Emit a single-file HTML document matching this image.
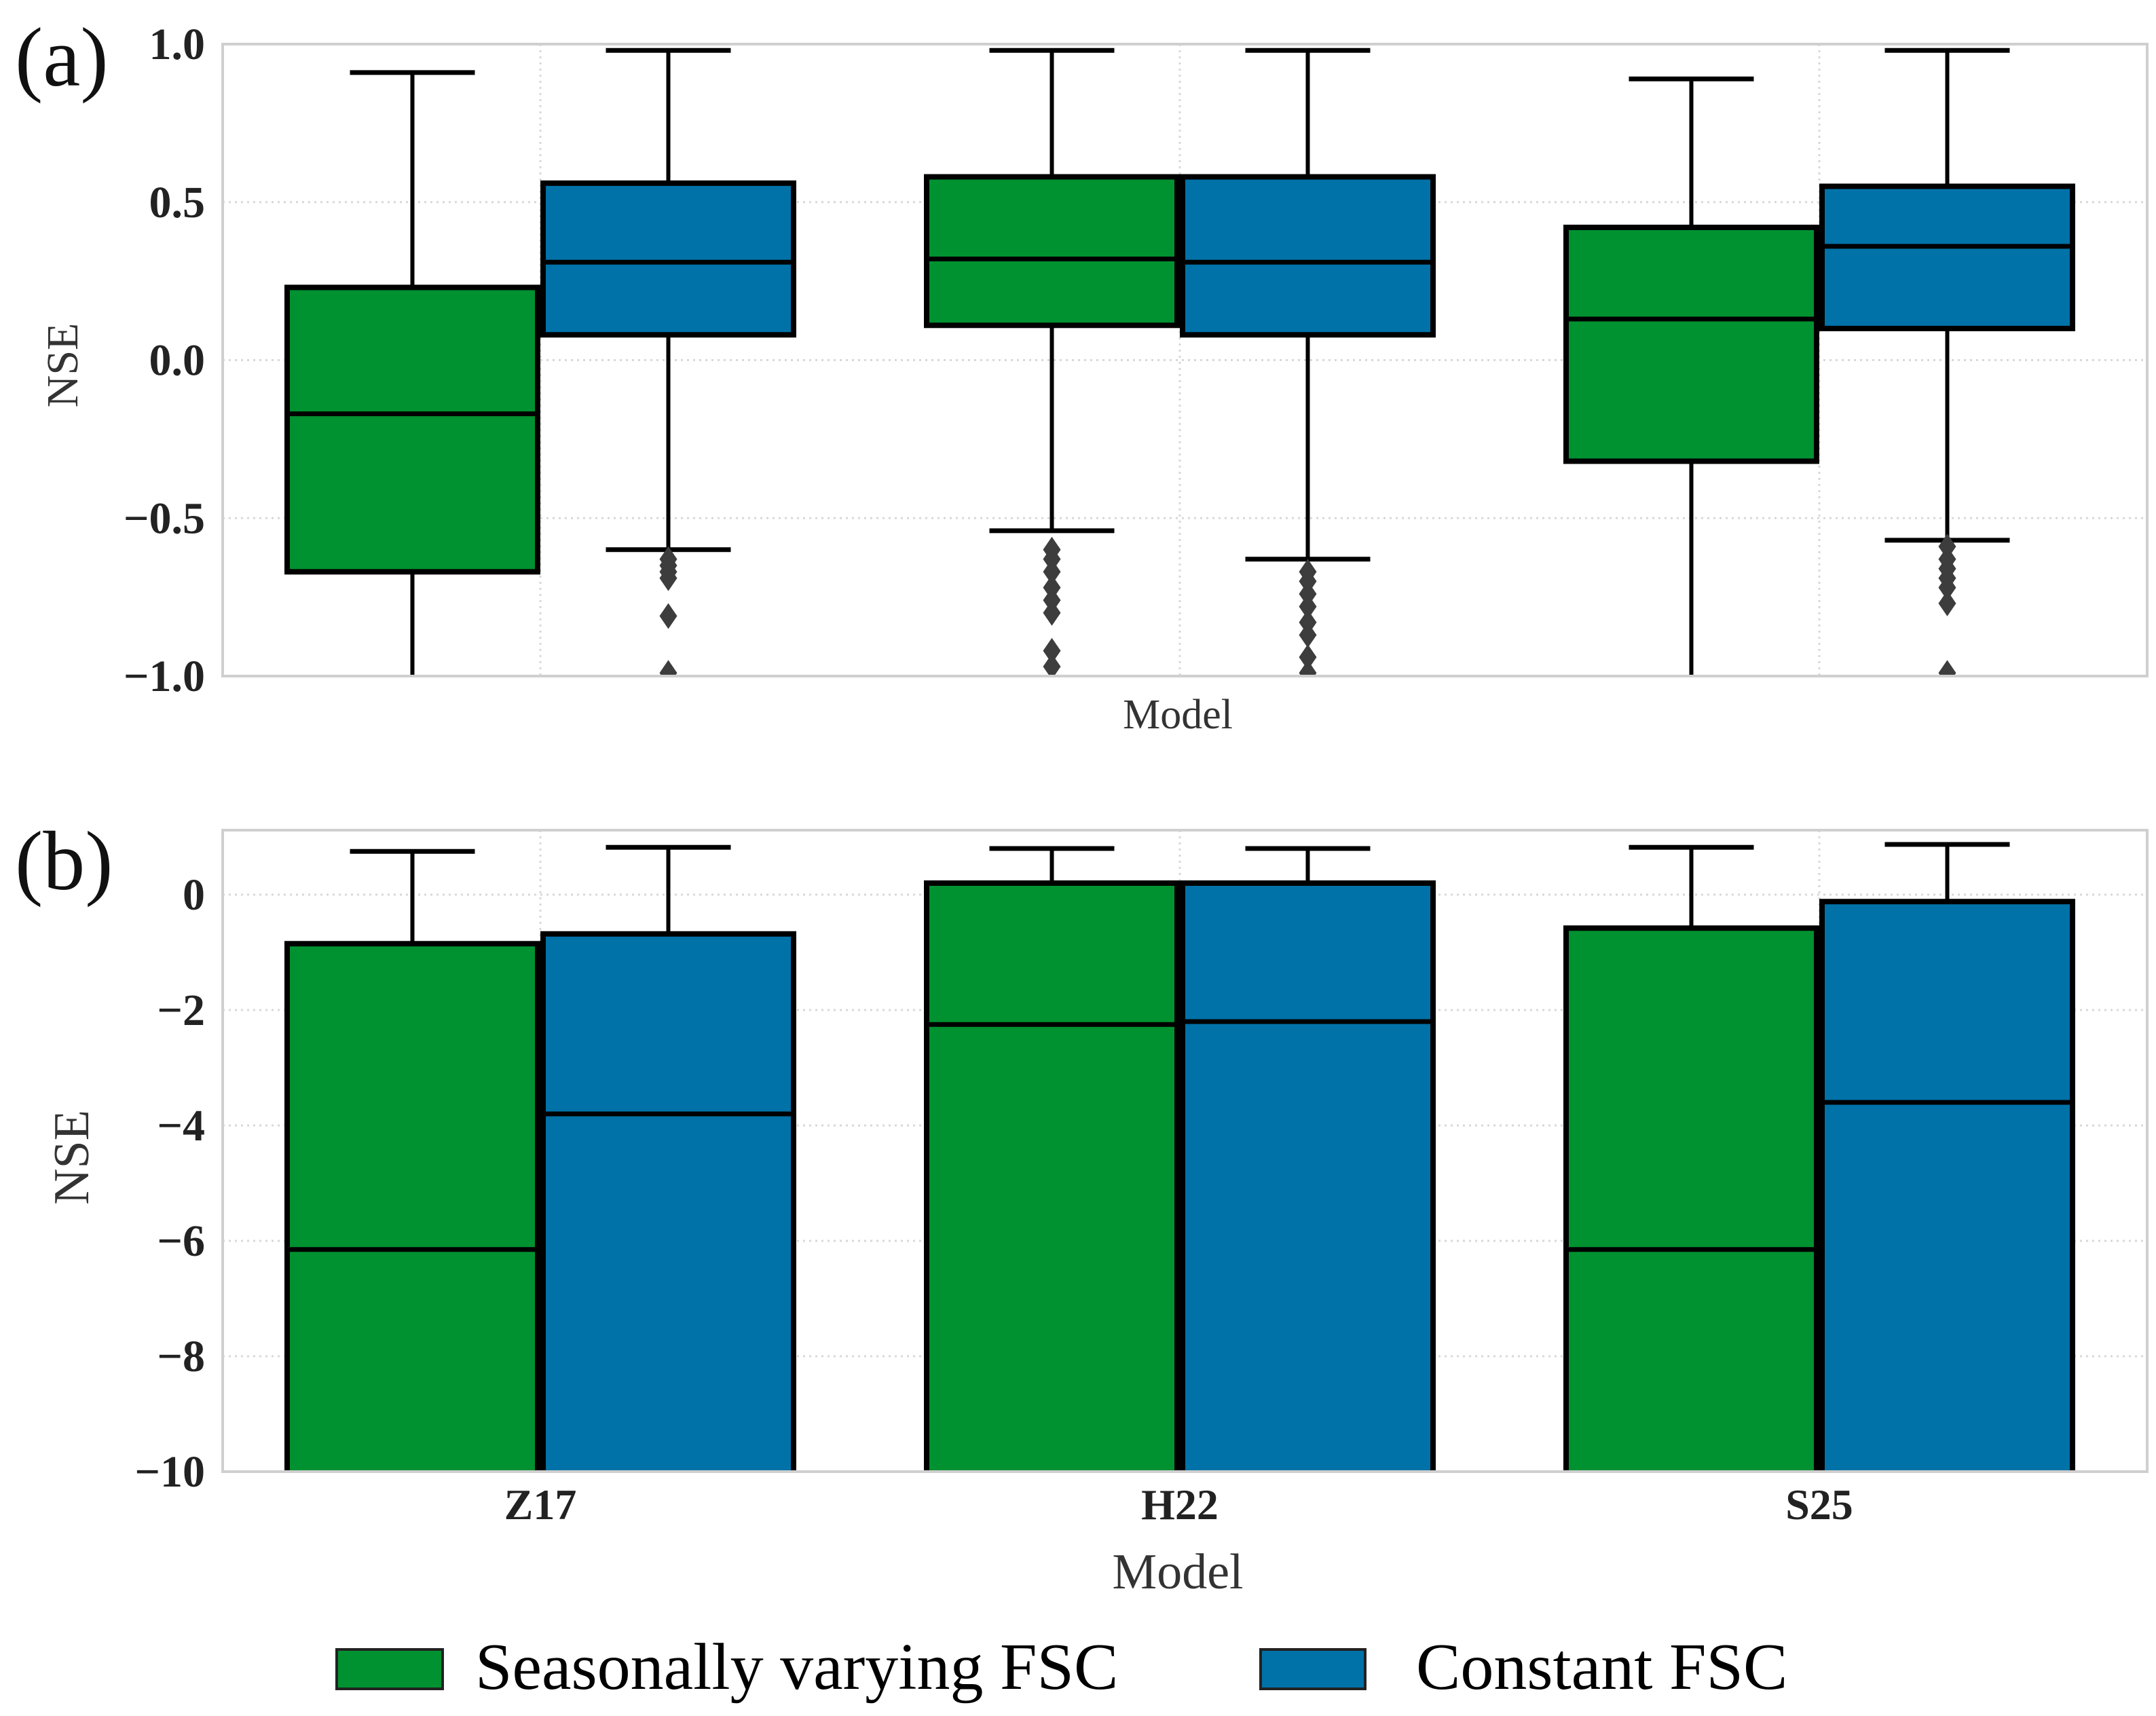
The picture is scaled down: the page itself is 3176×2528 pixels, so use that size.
<!DOCTYPE html>
<html><head><meta charset="utf-8">
<style>html,body{margin:0;padding:0;background:#fff}svg{display:block}</style>
</head><body>
<svg id="chart" width="3176" height="2528" viewBox="0 0 3176 2528" xmlns="http://www.w3.org/2000/svg" font-family="'Liberation Serif', serif">
<defs>
<clipPath id="clipA"><rect x="328" y="65" width="2835" height="931"/></clipPath>
<clipPath id="clipB"><rect x="328" y="1223" width="2835" height="945"/></clipPath>
</defs>
<g id="panelA"></g>
<g id="panelB"></g>
<g>
<rect x="496" y="2430" width="156" height="58" fill="#009230" stroke="#222" stroke-width="4"/>
<text x="700" y="2488" font-size="98">Seasonally varying FSC</text>
<rect x="1857" y="2430" width="154" height="58" fill="#0072a8" stroke="#222" stroke-width="4"/>
<text x="2086" y="2488" font-size="98">Constant FSC</text>
</g>
</svg>
<script>
const categories = ["Z17","H22","S25"];
const series = ["Seasonally varying FSC","Constant FSC"];
const colors = ["#009230","#0072a8"];
// Panel (a): [whiskerLow, q1, median, q3, whiskerHigh] per category per series
const aSeasonal = [[-1.2,-0.67,-0.17,0.23,0.91],[-0.54,0.11,0.32,0.58,0.98],[-1.2,-0.32,0.13,0.42,0.89]];
const aConstant = [[-0.60,0.08,0.31,0.56,0.98],[-0.63,0.08,0.31,0.58,0.98],[-0.57,0.10,0.36,0.55,0.98]];
const aOutSeasonal = [[],[-0.60,-0.63,-0.67,-0.72,-0.76,-0.80,-0.92,-0.97],[]];
const aOutConstant = [[-0.63,-0.65,-0.67,-0.69,-0.81,-0.99],[-0.67,-0.70,-0.74,-0.78,-0.83,-0.87,-0.94,-0.99],[-0.59,-0.63,-0.66,-0.69,-0.72,-0.77,-0.99]];
// Panel (b)
const bSeasonal = [[-14,-12,-6.15,-0.85,0.75],[-14,-12,-2.25,0.2,0.8],[-14,-12,-6.15,-0.58,0.82]];
const bConstant = [[-14,-12,-3.8,-0.68,0.82],[-14,-12,-2.2,0.2,0.8],[-14,-12,-3.6,-0.12,0.87]];
const aTicks = [1.0,0.5,0.0,-0.5,-1.0];
const aTickLabels = ["1.0","0.5","0.0","\u22120.5","\u22121.0"];
const bTicks = [0,-2,-4,-6,-8,-10];
const bTickLabels = ["0","\u22122","\u22124","\u22126","\u22128","\u221210"];

const NS="http://www.w3.org/2000/svg";
const L=328,R=3163;
function xc(i){return 796+942*i;}
const HALF=377;
function yA(v){return 530.5-v*465.5;}
function yB(v){return 1318-v*85;}
function mk(parent,tag,attrs){const e=document.createElementNS(NS,tag);for(const k in attrs)e.setAttribute(k,attrs[k]);parent.appendChild(e);return e;}

function drawPanel(g,top,bottom,ys,ticks,tlabels,data,outs,clip,letter,letterY,ylabY,ylabX,modelY,modelSize,showCats,ylabSize){
  const fr=mk(g,'rect',{x:L,y:top,width:R-L,height:bottom-top,fill:'#fff',stroke:'none'});
  
  
  ticks.forEach((t,k)=>{
    const y=ys(t);
    const gl=mk(g,'line',{x1:L,x2:R,y1:y,y2:y,stroke:'#d8d8d8','stroke-width':3,'stroke-dasharray':'3,6'});
    
    
    const tx=mk(g,'text',{x:L-26,y:y+22,'text-anchor':'end','font-size':66,'font-weight':'bold',fill:'#222'});
    tx.textContent=tlabels[k];
    
    
  });
  categories.forEach((c,i)=>{
    const gl=mk(g,'line',{x1:xc(i),x2:xc(i),y1:top,y2:bottom,stroke:'#d8d8d8','stroke-width':3,'stroke-dasharray':'3,6'});
    
    
  });
  const cg=mk(g,'g',{'clip-path':'url(#'+clip+')'});
  categories.forEach((c,i)=>{
    data.forEach((ser,s)=>{
      const d=ser[i];
      const x0=xc(i)-HALF+s*HALF, x1=x0+HALF, cx=(x0+x1)/2;
      const bg=mk(cg,'g',{});
      
      
      mk(bg,'line',{x1:cx,x2:cx,y1:ys(d[3]),y2:ys(d[4]),stroke:'#000','stroke-width':6});
      mk(bg,'line',{x1:cx,x2:cx,y1:ys(d[1]),y2:ys(d[0]),stroke:'#000','stroke-width':6});
      mk(bg,'line',{x1:cx-92,x2:cx+92,y1:ys(d[4]),y2:ys(d[4]),stroke:'#000','stroke-width':7});
      mk(bg,'line',{x1:cx-92,x2:cx+92,y1:ys(d[0]),y2:ys(d[0]),stroke:'#000','stroke-width':7});
      mk(bg,'rect',{x:x0+4,y:ys(d[3]),width:HALF-8,height:ys(d[1])-ys(d[3]),fill:colors[s],stroke:'#000','stroke-width':8});
      mk(bg,'line',{x1:x0+4,x2:x1-4,y1:ys(d[2]),y2:ys(d[2]),stroke:'#000','stroke-width':7});
      if(outs){
        outs[s][i].forEach(v=>{
          const y=ys(v);
          const o=mk(cg,'polygon',{points:`${cx},${y-19} ${cx+13},${y} ${cx},${y+19} ${cx-13},${y}`,fill:'#3d3d3d'});
          
          
        });
      }
    });
    if(showCats){
      const t=mk(g,'text',{x:xc(i),y:2238,'text-anchor':'middle','font-size':64,'font-weight':'bold',fill:'#222'});
      t.textContent=c;
      
      
    }
  });
  const br=mk(g,'rect',{x:L,y:top,width:R-L,height:bottom-top,fill:'none',stroke:'#cfcfcf','stroke-width':4});
  
  
  const yl=mk(g,'text',{x:0,y:0,'text-anchor':'middle','font-size':ylabSize,fill:'#333',transform:`translate(${ylabX},${ylabY}) rotate(-90)`});
  yl.textContent='NSE';
  
  
  const ml=mk(g,'text',{x:1735,y:modelY,'text-anchor':'middle','font-size':modelSize,fill:'#333'});
  ml.textContent='Model';
  
  
  const lt=mk(g,'text',{x:22,y:letterY,'font-size':124,fill:'#111'});
  lt.textContent=letter;
  
  
}
drawPanel(document.getElementById('panelA'),65,996,yA,aTicks,aTickLabels,[aSeasonal,aConstant],[aOutSeasonal,aOutConstant],'clipA','(a)',126,538,114,1073,62,false,66);
drawPanel(document.getElementById('panelB'),1223,2168,yB,bTicks,bTickLabels,[bSeasonal,bConstant],null,'clipB','(b)',1310,1705,130,2340,74,true,74);
</script>
</body></html>
